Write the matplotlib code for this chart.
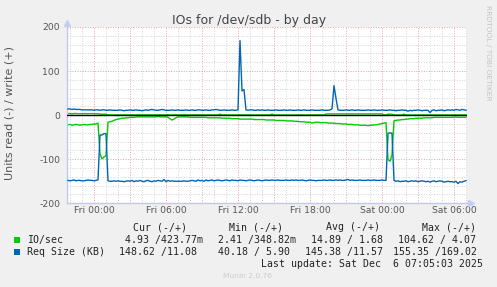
import numpy as np
import matplotlib
matplotlib.use("Agg")
import matplotlib.pyplot as plt
from matplotlib.patches import Rectangle

# ---------------- data (10-minute samples, first sample Thu 21:50) ----------------
# hours relative to Fri 00:00
t_start = -2 - 10 / 60
t_step = 10 / 60

# IO/sec read (plotted negative), one row = one hour
io_read = [
    22, 21, 23, 22, 21, 22,
    23, 22, 21, 22, 22, 21,
    21, 20, 20, 18, 88, 99,
    95, 92, 16, 15, 14, 12,
    10, 9, 8, 7, 7, 6,
    6, 5, 5, 5, 4, 4,
    4, 4, 4, 4, 4, 4,
    4, 4, 4, 3, 4, 4,
    4, 4, 5, 8, 11, 9,
    6, 4, 4, 4, 4, 4,
    4, 5, 5, 5, 5, 5,
    5, 5, 5, 5, 6, 6,
    6, 6, 6, 6, 6, 7,
    7, 7, 7, 7, 8, 8,
    8, 8, 9, 9, 9, 9,
    9, 9, 9, 10, 10, 10,
    10, 10, 10, 11, 11, 11,
    11, 11, 12, 12, 12, 12,
    12, 13, 13, 13, 13, 14,
    14, 14, 15, 15, 15, 16,
    16, 16, 18, 17, 16, 16,
    17, 17, 17, 17, 18, 18,
    18, 18, 19, 19, 19, 20,
    20, 20, 21, 21, 21, 22,
    22, 22, 23, 23, 23, 23,
    24, 23, 23, 22, 22, 21,
    20, 19, 18, 17, 101, 104.6,
    90, 13, 12, 11, 11, 10,
    10, 9, 9, 8, 8, 8,
    7, 7, 7, 7, 6, 6,
    6, 6, 6, 5, 5, 5,
    5, 5, 5, 5, 5, 5,
    5, 5, 4, 5, 5, 5,
    5, 4.93,
]

# IO/sec write (plotted positive)
io_write = [
    3.4, 3.6, 3.2, 3.5, 3.8, 3.3,
    3.5, 3.2, 3.6, 3.4, 3.3, 3.5,
    3.6, 3.4, 3.2, 3.5, 2.2, 2.0,
    2.1, 2.4, 0.6, 0.5, 0.6, 0.5,
    0.5, 0.6, 0.5, 0.5, 0.6, 0.5,
    0.5, 0.5, 0.6, 0.5, 0.5, 0.5,
    0.6, 0.5, 0.5, 0.5, 0.6, 0.5,
    0.5, 0.5, 0.6, 0.5, 0.5, 0.6,
    0.5, 0.5, 0.5, 0.6, 0.5, 0.5,
    0.6, 0.5, 0.5, 0.5, 0.6, 0.5,
    0.5, 0.5, 0.6, 0.5, 0.5, 0.5,
    0.6, 0.5, 0.5, 0.5, 0.6, 0.5,
    0.5, 0.6, 0.5, 0.5, 2.2, 0.5,
    0.6, 0.5, 0.5, 0.6, 0.5, 0.6,
    0.5, 0.6, 0.7, 0.6, 0.5, 0.6,
    0.5, 0.6, 0.5, 0.6, 0.5, 0.5,
    0.5, 0.6, 0.5, 0.5, 0.6, 0.5,
    2.4, 0.6, 0.5, 0.5, 0.5, 0.6,
    0.5, 0.6, 0.5, 0.6, 0.5, 0.5,
    0.5, 0.6, 0.5, 0.5, 0.6, 0.5,
    0.6, 0.5, 0.5, 0.5, 0.6, 0.5,
    0.6, 0.5, 0.6, 2.6, 2.8, 2.9,
    3.0, 2.8, 2.7, 2.9, 3.0, 2.8,
    2.7, 2.9, 3.0, 2.8, 2.9, 2.7,
    2.8, 3.0, 2.9, 2.7, 2.8, 3.0,
    2.9, 2.8, 2.7, 2.9, 3.0, 2.8,
    2.9, 2.8, 0.6, 0.5, 2.2, 2.4,
    2.0, 0.5, 0.4, 0.4, 0.5, 0.4,
    2.3, 0.4, 0.5, 0.4, 0.4, 0.4,
    0.5, 0.4, 0.4, 0.4, 0.5, 0.4,
    0.35, 0.4, 0.5, 0.4, 0.4, 0.4,
    0.4, 0.5, 0.4, 0.4, 0.4, 0.5,
    0.4, 0.4, 0.4, 0.5, 0.4, 0.4,
    0.4, 0.424,
]

# Req Size (KB) read (plotted negative)
req_read = [
    148, 149, 148, 147, 149, 148,
    148, 149, 149, 148, 147, 148,
    148, 149, 148, 147, 45, 45,
    42, 42, 149, 150, 150, 149,
    150, 149, 150, 150, 151, 150,
    149, 150, 148, 151, 149, 150,
    148, 150, 151, 149, 148, 150,
    151, 149, 150, 148, 149, 150,
    146, 151, 148, 150, 149, 150,
    150, 150, 150, 150, 149, 150,
    150, 149, 148, 149, 150, 147,
    149, 148, 150, 147, 149, 148,
    147, 149, 148, 147, 148, 149,
    148, 147, 148, 149, 147, 148,
    148, 149, 147, 148, 148, 149,
    148, 147, 148, 149, 148, 147,
    148, 149, 148, 147, 148, 148,
    147, 148, 148, 147, 148, 148,
    148, 147, 148, 148, 147, 148,
    147, 148, 148, 147, 148, 149,
    148, 147, 148, 148, 149, 148,
    148, 148, 147, 148, 148, 147,
    148, 148, 147, 148, 147, 148,
    148, 147, 146, 148, 147, 148,
    148, 148, 147, 148, 148, 148,
    147, 148, 148, 147, 148, 148,
    148, 147, 148, 148, 41, 40.2,
    41, 148, 150, 149, 151, 150,
    150, 149, 151, 150, 149, 150,
    149, 151, 150, 149, 150, 151,
    150, 152, 150, 149, 151, 150,
    149, 150, 152, 151, 150, 151,
    151, 152, 150, 155.3, 151, 152,
    150, 148.62,
]

# Req Size (KB) write (plotted positive)
req_write = [
    14, 14, 13, 14, 13, 13,
    13, 12, 12, 12, 12, 12,
    12, 11, 12, 12, 11, 12,
    12, 11, 11, 12, 11, 11,
    11, 11, 12, 11, 10, 11,
    11, 12, 11, 11, 12, 11,
    11, 10, 11, 12, 11, 12,
    13, 12, 11, 11, 12, 13,
    12, 11, 11, 11, 12, 11,
    11, 12, 11, 11, 11, 12,
    11, 11, 12, 11, 11, 12,
    12, 11, 11, 12, 11, 11,
    12, 12, 13, 12, 11, 11,
    12, 11, 11, 11, 12, 11,
    11, 12, 169.0, 55, 58, 12,
    11, 12, 12, 11, 11, 12,
    11, 12, 11, 11, 12, 11,
    11, 11, 12, 11, 11, 11,
    12, 11, 11, 12, 11, 11,
    11, 12, 11, 11, 12, 11,
    11, 11, 12, 11, 11, 11,
    11, 12, 11, 11, 11, 12,
    14, 67, 38, 12, 11, 11,
    11, 12, 11, 11, 12, 11,
    11, 12, 11, 11, 11, 11,
    12, 11, 11, 12, 11, 11,
    11, 12, 11, 11, 11, 12,
    11, 11, 10, 11, 11, 12,
    11, 11, 9, 11, 10, 11,
    11, 12, 11, 10, 11, 11,
    11, 5.9, 11, 12, 10, 11,
    11, 12, 10, 11, 12, 11,
    12, 11, 13, 12, 11, 13,
    12, 11.08,
]

x_tick_hours = [0, 6, 12, 18, 24, 30]
x_tick_labels = ["Fri 00:00", "Fri 06:00", "Fri 12:00", "Fri 18:00", "Sat 00:00", "Sat 06:00"]
y_ticks = [-200, -100, 0, 100, 200]

legend_names = ["IO/sec", "Req Size (KB)"]
legend_headers = ["Cur (-/+)", "Min (-/+)", "Avg (-/+)", "Max (-/+)"]
io_stats = ["4.93 /423.77m", "2.41 /348.82m", "14.89 / 1.68", "104.62 / 4.07"]
req_stats = ["148.62 /11.08", "40.18 / 5.90", "145.38 /11.57", "155.35 /169.02"]

# ---------------- figure ----------------
W, H = 497, 287
GREEN = "#00cc00"
BLUE = "#0066b3"

fig = plt.figure(figsize=(W / 100, H / 100), dpi=100, facecolor="#f0f0f0")
ax = fig.add_axes([67 / W, 1 - 203.3 / H, 400 / W, 176.3 / H])
ax.set_facecolor("white")

n = len(io_read)
t = t_start + t_step * np.arange(n)
x0, x1 = -2.25, 31 + 5 / 60

# grid
dot = (0, (1, 1.6))
for h in range(-2, 32):
    if h % 3 == 0:
        continue
    ax.axvline(h, color="#d2d2d2", lw=0.7, ls=dot, zorder=0)
for v in range(-200, 201, 20):
    if v % 100 == 0:
        continue
    ax.axhline(v, color="#d2d2d2", lw=0.7, ls=dot, zorder=0)
for h in range(0, 32, 3):
    ax.axvline(h, color="#eea0a0", lw=0.7, ls=dot, zorder=0.5)
for v in (-100, 100, 200):
    ax.axhline(v, color="#eea0a0", lw=0.7, ls=dot, zorder=0.5)

ax.plot(t, -np.array(io_read), color=GREEN, lw=1.0, zorder=2)
ax.plot(t, np.array(io_write), color=GREEN, lw=1.0, zorder=2)
ax.plot(t, -np.array(req_read), color=BLUE, lw=1.0, zorder=3)
ax.plot(t, np.array(req_write), color=BLUE, lw=1.0, zorder=3)
ax.axhline(0, color="black", lw=1.0, zorder=4)

ax.set_xlim(x0, x1)
ax.set_ylim(-200, 200)
ax.set_xticks(x_tick_hours)
ax.set_xticklabels(x_tick_labels)
ax.set_yticks(y_ticks)
ax.set_yticklabels([str(v) for v in y_ticks])
ax.tick_params(axis="both", length=0, labelsize=6.7, labelcolor="#555555")
ax.tick_params(axis="x", pad=2.2)
ax.tick_params(axis="y", pad=5)

for s in ("top", "right"):
    ax.spines[s].set_visible(False)
for s in ("left", "bottom"):
    ax.spines[s].set_color("#c4c8ec")
    ax.spines[s].set_linewidth(1.0)

ax.plot([0], [1.022], marker="^", ms=4.5, color="#c4cef4", transform=ax.transAxes, clip_on=False)
ax.plot([1.01], [0], marker=">", ms=4.5, color="#c4cef4", transform=ax.transAxes, clip_on=False)


def fx(x):
    return x / W


def fy(y):
    return 1 - y / H


fig.text(fx(249), fy(24), "IOs for /dev/sdb - by day", ha="center", va="baseline",
         fontsize=9, color="#444444")
fig.text(fx(10), fy(113), "Units read (-) / write (+)", rotation=90, ha="center",
         va="center", fontsize=8, color="#555555")
fig.text(fx(488), fy(5), "RRDTOOL / TOBI OETIKER", rotation=270, ha="center", va="top",
         fontsize=5.4, color="#c4c4c4")

mono = dict(family="DejaVu Sans Mono", fontsize=7.1, color="#222222", va="baseline")
header_right = [187, 283, 380, 476]
for hx, htxt in zip(header_right, legend_headers):
    fig.text(fx(hx), fy(230), htxt, ha="right", **mono)

fig.patches.append(Rectangle((fx(14), fy(243)), 6 / W, 6 / H, transform=fig.transFigure,
                             facecolor=GREEN, edgecolor="none"))
fig.patches.append(Rectangle((fx(14), fy(255)), 6 / W, 6 / H, transform=fig.transFigure,
                             facecolor=BLUE, edgecolor="none"))
fig.text(fx(27), fy(243), legend_names[0], ha="left", **mono)
fig.text(fx(27), fy(255), legend_names[1], ha="left", **mono)

io_right = [203, 296, 383, 476]
req_right = [197, 290, 383, 477]
for cx, txt in zip(io_right, io_stats):
    fig.text(fx(cx), fy(243), txt, ha="right", **mono)
for cx, txt in zip(req_right, req_stats):
    fig.text(fx(cx), fy(255), txt, ha="right", **mono)

fig.text(fx(483), fy(267), "Last update: Sat Dec  6 07:05:03 2025", ha="right", **mono)
fig.text(fx(223), fy(278), "Munin 2.0.76", ha="left", va="baseline", fontsize=5.4,
         color="#cccccc")

fig.savefig("out.png", dpi=100, facecolor=fig.get_facecolor())
